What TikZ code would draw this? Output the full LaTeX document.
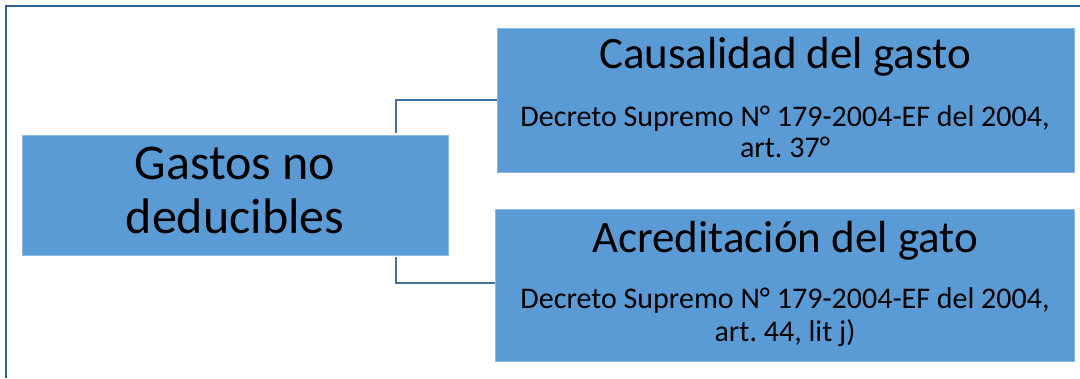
\documentclass[tikz,border=0pt]{standalone}
\usepackage{fontspec}
\setmainfont{Carlito}
\frenchspacing
\definecolor{boxblue}{HTML}{5B9BD5}
\definecolor{frameblue}{HTML}{2F5F8F}
\definecolor{linkblue}{HTML}{41719C}
\begin{document}
\begin{tikzpicture}[x=1pt,y=-1pt,
  blok/.style={fill=boxblue, draw=boxblue!70!white, line width=0.8pt, inner sep=0pt, anchor=north west},
  bigtxt/.style={anchor=base, inner sep=0pt, font=\fontsize{50}{50}\selectfont},
  ttl/.style={anchor=base, inner sep=0pt, font=\fontsize{45}{45}\selectfont},
  sub/.style={anchor=base, inner sep=0pt, font=\fontsize{30}{30}\selectfont},
  link/.style={draw=linkblue, line width=1.6pt}]
\useasboundingbox (0,0) rectangle (1080,378);
\fill[white] (0,0) rectangle (1080,378);
\draw[frameblue, line width=2.2pt] (6,378) -- (6,6) -- (1080,6);
% left box
\node[blok, minimum width=426pt, minimum height=120pt] (main) at (22,135) {};
\node[bigtxt] (m1) at (235,179) {Gastos no};
\node[bigtxt] (m2) at (235,233) {deducibles};
% top right
\node[blok, minimum width=577pt, minimum height=144pt] (top) at (497,28) {};
\node[ttl] (toptitle) at (785,68) {Causalidad del gasto};
\node[sub] (topsub1) at (785,126) {Decreto Supremo N° 179-2004-EF del 2004,};
\node[sub] (topsub2) at (785,157) {art. 37°};
% bottom right
\node[blok, minimum width=579pt, minimum height=152pt] (bot) at (495,209) {};
\node[ttl] (bottitle) at (785,252) {Acreditación del gato};
\node[sub] (botsub1) at (785,308) {Decreto Supremo N° 179-2004-EF del 2004,};
\node[sub] (botsub2) at (785,341) {art. 44, lit j)};
% connectors
\coordinate (c1) at (396,133);
\coordinate (c2) at (396,257);
\draw[link] (c1) |- (top.west |- 0,100);
\draw[link] (c2) |- (bot.west |- 0,283);
\end{tikzpicture}
\end{document}
